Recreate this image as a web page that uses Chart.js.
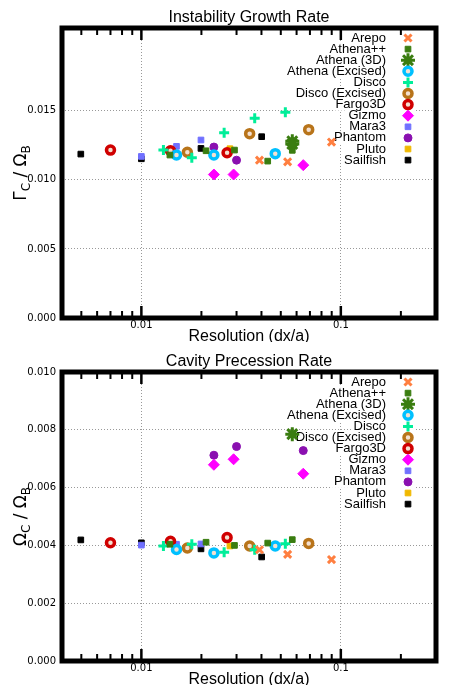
<!DOCTYPE html><html><head><meta charset="utf-8">
<script src="https://cdn.jsdelivr.net/npm/chart.js@4/dist/chart.umd.min.js"></script>
<style>body{margin:0;background:#fff}canvas{display:block}</style></head><body>
<div style="width:457px;height:342px"><canvas id="c1"></canvas></div>
<div style="width:457px;height:343px"><canvas id="c2"></canvas></div>
<script>
const names=["Arepo","Athena++","Athena (3D)","Athena (Excised)","Disco","Disco (Excised)","Fargo3D","Gizmo","Mara3","Phantom","Pluto","Sailfish"];
const colors=["#ff7f40","#3a7d10","#3a7d10","#00c0ff","#00ee99","#b8741a","#d00000","#ff00ff","#7070ff","#8a10b0","#f0b800","#000000"];
const styles=["crossRot","rect","star","circle","cross","circle","circle","rectRot","rect","circle","rect","rect"];
const xTicks=[0.01,0.1];
// growth rate
const gx=[[0.0391,0.0541,0.0898],[0.0139,0.0211,0.0293,0.0430,0.0571],[0.0571,0.0571],[0.0150,0.0231,0.0469],[0.0129,0.0179,0.0260,0.0370,0.0527],[0.0170,0.0349,0.0690],[0.0070,0.0140,0.0269],[0.0231,0.0290,0.0648],[0.0100,0.0150,0.0199],[0.0231,0.0300],[0.0278],[0.00497,0.0100,0.0199,0.0401]];
const gy=[[0.01143,0.01131,0.01274],[0.0118,0.01211,0.01216,0.01136,0.01214],[0.0128,0.0126],[0.0118,0.0118,0.0119],[0.01216,0.0116,0.01342,0.01447,0.0149],[0.0120,0.01335,0.01364],[0.01216,0.01211,0.01197],[0.01039,0.01039,0.01107],[0.0117,0.01243,0.01289],[0.01238,0.01143],[0.01226],[0.01187,0.01153,0.01228,0.01313]];
// precession rate
const px=[[0.0391,0.0541,0.0898],[0.0139,0.0211,0.0293,0.0430,0.0571],[0.0571],[0.0150,0.0231,0.0469],[0.0129,0.0179,0.0260,0.0370,0.0527],[0.0170,0.0349,0.0690],[0.0070,0.0140,0.0269],[0.0231,0.0290,0.0648],[0.0100,0.0150,0.0199],[0.0231,0.0300,0.0648],[0.0278],[0.00497,0.0100,0.0199,0.0401]];
const py=[[0.00385,0.00369,0.00351],[0.00404,0.00411,0.0040,0.00408,0.0042],[0.00785],[0.00386,0.00374,0.00398],[0.00398,0.00404,0.00376,0.00385,0.00406],[0.00391,0.00398,0.00407],[0.00409,0.00414,0.00427],[0.00679,0.00698,0.00648],[0.00401,0.00404,0.00405],[0.00712,0.00742,0.00728],[0.00398],[0.00419,0.00409,0.00388,0.0036]];

function ds(xs,ys){return names.map((n,i)=>{
  const circ=styles[i]==="circle"&&i!==9;
  return {label:n,data:xs[i].map((x,j)=>({x:x,y:ys[i][j]})),pointStyle:styles[i],
  backgroundColor:circ?"#f4e0d0":colors[i],borderColor:colors[i],
  borderWidth:circ?3.5:(styles[i]==="crossRot"||styles[i]==="cross"||styles[i]==="star"?3:1),
  pointRadius:i===2?7:(circ?4:(styles[i]==="rectRot"?5.5:(i===0||i===4?5:4))),showLine:false};});}

function make(id,xs,ys,title,ymax,step,ysym,padTop){
  const deco={id:'deco',
  beforeDatasetsDraw(ch){const c=ch.ctx,a=ch.chartArea;
    c.save();c.font="13px 'Liberation Sans'";c.textAlign="right";c.textBaseline="middle";
    ch.data.datasets.forEach((d,i)=>{const Y=a.top+10+i*11.1;const w=c.measureText(d.label).width;
      c.fillStyle="#fff";c.fillRect(386-w-2,Y-6,w+32,12);});
    ch.data.datasets.forEach((d,i)=>{const Y=a.top+10+i*11.1;c.fillStyle="#000";c.fillText(d.label,386,Y);
      c.fillStyle=d.backgroundColor;c.strokeStyle=d.borderColor;c.lineWidth=d.borderWidth;
      Chart.helpers.drawPoint(c,{pointStyle:d.pointStyle,radius:d.pointRadius,rotation:0,borderWidth:d.borderWidth},408,Y);});
    c.restore();},
  afterDraw(ch){const c=ch.ctx,a=ch.chartArea,xs=ch.scales.x;
    c.save();c.fillStyle="#000";c.textAlign="center";c.textBaseline="alphabetic";
    c.font="16px 'Liberation Sans'";c.fillText(title,(a.left+a.right)/2,a.top-6);
    c.fillText("Resolution (dx/a)",(a.left+a.right)/2,a.bottom+23);
    c.strokeStyle="#000";c.lineWidth=2;
    const minors=[0.005,0.006,0.007,0.008,0.009,0.02,0.03,0.04,0.05,0.06,0.07,0.08,0.09,0.2,0.3];
    minors.forEach(v=>{const X=xs.getPixelForValue(v);if(X<a.left+3||X>a.right-3)return;c.beginPath();c.moveTo(X,a.top);c.lineTo(X,a.top+7);c.moveTo(X,a.bottom);c.lineTo(X,a.bottom-7);c.stroke();});
    c.lineWidth=2.5;
    xTicks.forEach(v=>{const X=xs.getPixelForValue(v);c.beginPath();c.moveTo(X,a.top);c.lineTo(X,a.top+12);c.moveTo(X,a.bottom);c.lineTo(X,a.bottom-12);c.stroke();});
    c.lineWidth=5;c.strokeRect(a.left,a.top,a.right-a.left,a.bottom-a.top);
    c.translate(20,(a.top+a.bottom)/2);c.rotate(-Math.PI/2);c.textAlign="left";
    c.font="17px 'DejaVu Sans'";let t=ysym+"";const w1=c.measureText(t).width;
    c.font="12px 'DejaVu Sans'";const w2=c.measureText("C").width;
    c.font="17px 'DejaVu Sans'";const w3=c.measureText(" / Ω").width;
    c.font="12px 'DejaVu Sans'";const w4=c.measureText("B").width;
    let x0=-(w1+w2+w3+w4)/2;
    c.font="17px 'DejaVu Sans'";c.fillText(t,x0,6);x0+=w1;
    c.font="12px 'DejaVu Sans'";c.fillText("C",x0,10);x0+=w2;
    c.font="17px 'DejaVu Sans'";c.fillText(" / Ω",x0,6);x0+=w3;
    c.font="12px 'DejaVu Sans'";c.fillText("B",x0,10);
    c.restore();}};
  new Chart(document.getElementById(id),{type:'scatter',data:{datasets:ds(xs,ys)},plugins:[deco],
  options:{responsive:true,maintainAspectRatio:false,animation:false,
   layout:{padding:{top:padTop,right:21,left:0,bottom:0}},
   plugins:{legend:{display:false},tooltip:{enabled:false}},
   scales:{x:{type:'logarithmic',min:0.004,max:0.3,afterBuildTicks:s=>{s.ticks=xTicks.map(v=>({value:v}));},
     afterFit:s=>{s.height=24;},
     ticks:{autoSkip:false,maxRotation:0,font:{size:10,family:"'DejaVu Sans'"},color:"#000",padding:1,callback:v=>String(v)},
     grid:{color:"#999",lineWidth:1,drawTicks:false},border:{dash:[1,2],display:false}},
    y:{min:0,max:ymax,afterFit:s=>{s.width=62;},
     afterBuildTicks:s=>{s.ticks=s.ticks.filter(t=>t.value<=ymax-step/2||Math.abs(t.value-ymax)<1e-9&&step===0.002);},
     ticks:{stepSize:step,font:{size:10,family:"'DejaVu Sans'"},color:"#000",padding:6,callback:v=>v.toFixed(3)},
     grid:{color:"#999",lineWidth:1,drawTicks:false},border:{dash:[1,2],display:false}}}}});
}
make('c1',gx,gy,"Instability Growth Rate",0.021,0.005,"Γ",28);
make('c2',px,py,"Cavity Precession Rate",0.010,0.002,"Ω",30);
</script></body></html>
